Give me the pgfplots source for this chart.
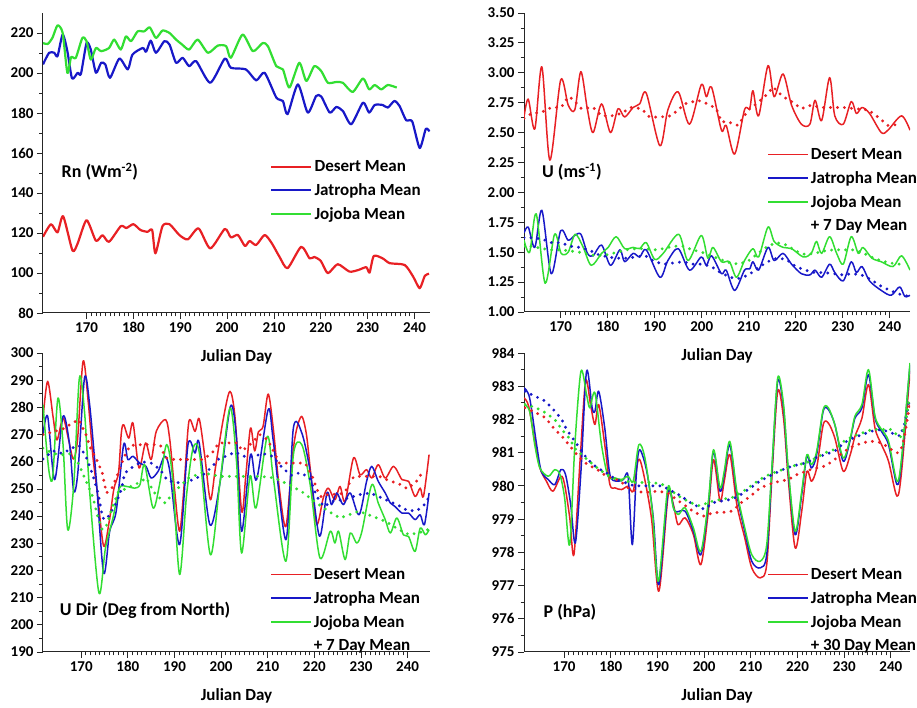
\documentclass[border=0pt]{standalone}
\usepackage{fontspec}
\setmainfont{Carlito}
\usepackage{pgfplots}
\pgfplotsset{compat=1.18}
\definecolor{cR}{RGB}{232,32,36}
\definecolor{cB}{RGB}{24,24,200}
\definecolor{cG}{RGB}{50,222,50}
\pgfplotsset{panel/.style={
  scale only axis, width=387pt, height=299pt, anchor=south west,
  axis x line*=bottom, axis y line*=left,
  axis line style={line width=1pt, black!85},
  tick align=outside, major tick length=6pt, minor tick length=3.5pt,
  every tick/.style={black!85, line width=0.8pt},
  xtick={170,180,...,240}, minor x tick num=9, minor y tick num=1,
  /pgf/number format/assume math mode=true,
  ticklabel style={font=\bfseries\fontsize{15}{15}\selectfont},
  xlabel={Julian Day},
  xlabel style={font=\bfseries\fontsize{17}{17}\selectfont, at={(rel axis cs:0.5,0)}, anchor=center, yshift=-44pt},
  legend style={draw=none, fill=none, inner sep=0pt, anchor=north west,
     font=\bfseries\fontsize{17}{17}\selectfont, row sep=6.5pt,
     nodes={inner sep=2pt}},
  legend cell align=left,
  legend image code/.code={\draw[##1] (0pt,0pt) -- (40pt,0pt);},
  every axis plot/.append style={line join=round},
}}
\pgfplotsset{mean/.style={line width=3.2pt, dash pattern=on 0pt off 7pt, line cap=round, forget plot}}
\begin{document}
\begin{tikzpicture}
\path[use as bounding box] (0,0) rectangle (917pt,708pt);
% ---------------- Panel 1: Rn
\begin{axis}[panel, at={(43pt,395pt)}, height=300pt, xmin=160.7, xmax=243.3, ymin=80, ymax=230,
  ytick={80,100,...,220},
  legend style={at={(rel axis cs:0.587,0.516)}}]
\addplot[cR, line width=2.2pt, smooth, tension=0.4] coordinates {(160.7,118.1)(162.4,124.4)(163.8,120.3)(165.0,128.4)(167.0,111.2)(168.1,114.8)(170.0,126.4)(172.0,116.1)(173.4,118.9)(174.8,115.6)(177.3,123.4)(178.5,122.5)(180.0,124.4)(181.5,121.5)(183.0,120.6)(184.0,121.5)(184.7,109.8)(186.2,123.4)(187.7,124.4)(189.8,119)(191.6,116.8)(193.9,122.3)(196.4,112.3)(199.5,122)(200.8,117.8)(202.3,119)(203.8,113.5)(204.8,116)(206.2,114)(208,119)(209.5,115)(211.2,108)(212.9,102.4)(215.8,113.1)(217.6,107.3)(218.6,108)(220,106)(221.5,99.9)(223.6,104.4)(226.1,100.7)(228,101.5)(229.7,102.9)(230.4,100.2)(231.3,108.5)(233.2,107.3)(234.7,104.9)(237.9,104.0)(239.7,98.2)(241.1,92.4)(242.2,98.6)(243.1,99.6)};
\addlegendentry{Desert Mean}
\addplot[cB, line width=2.2pt, smooth, tension=0.4] coordinates {(160.7,204.3)(162.0,210.1)(163.1,210.1)(163.8,208.4)(164.9,219.2)(165.9,210.9)(166.9,197.3)(168.1,200.1)(168.8,199.6)(170,215)(170.9,211.7)(172,200.1)(173.1,205.1)(174,204.3)(175,197.6)(177,207.2)(178.8,201.8)(179.8,209.2)(182,212.5)(182.7,210.6)(183.7,216.2)(184.8,210.1)(186.6,215.9)(187.7,214.2)(189.1,205.1)(190.5,207.6)(191.9,203.4)(193.4,205.9)(196.4,195.1)(199.5,207.2)(200.8,202.6)(204,201.8)(206.2,196.3)(208,200.1)(210.5,187.7)(211.9,186)(212.9,179.4)(215.1,194.3)(217.2,180.2)(219,188.5)(220.1,188.2)(221.9,180.2)(223.3,183)(224.7,181)(226.5,174.4)(229,185.2)(230.3,180.2)(231.5,184)(233.2,184)(234.3,182.7)(235.7,186)(236.8,183.5)(238.2,176.4)(239.5,175.8)(241.1,162.5)(242.4,172)(243.2,170.8)};
\addlegendentry{Jatropha Mean}
\addplot[cG, line width=2.2pt, smooth, tension=0.4] coordinates {(160.7,215)(161.7,214.5)(162.7,217.5)(163.8,223.8)(164.9,220)(165.9,200.1)(166.7,207.9)(167.7,207.6)(169.1,217.5)(170,215.9)(170.9,206.7)(172,212.5)(173.1,210.9)(174.8,212.5)(175.9,216.7)(177.3,211.7)(178.4,218.3)(179.5,215.9)(180.9,220.8)(182.3,220.8)(183.5,222.8)(184.8,217.5)(186.2,221.2)(187.7,220)(189.1,216.7)(190.4,214.2)(191.9,211.7)(193.7,216.7)(195.9,210.1)(198,213.7)(199.8,213.4)(200.8,207.6)(203.3,219.2)(205.5,210.9)(207.6,215)(208.7,213.4)(210.5,203.4)(211.9,201.8)(213.3,192.7)(215.4,205.1)(216.9,196)(218.6,203.4)(220.1,200.9)(221.5,195.1)(223.3,195.5)(224.7,195.1)(226.8,190.5)(229,197.3)(230.3,191.8)(231.5,194)(232.9,191.8)(234.3,194)(236.2,192.7)};
\addlegendentry{Jojoba Mean}
\node[font=\bfseries\fontsize{18}{18}\selectfont] at (rel axis cs:0.147,0.47) {Rn (Wm\textsuperscript{-2})};
\end{axis}
% ---------------- Panel 2: U
\begin{axis}[panel, at={(524pt,396pt)}, width=386pt, xmin=162.2, xmax=244.3, ymin=1, ymax=3.5,
  ytick={1,1.25,...,3.5},
  yticklabel style={/pgf/number format/.cd, fixed, fixed zerofill, precision=2},
  legend style={at={(rel axis cs:0.630,0.555)}}]
\addplot[cR, line width=1.5pt, smooth] coordinates {(162.2,2.63)(163.1,2.78)(164.5,2.53)(166.0,3.05)(167.7,2.27)(170,2.94)(171.6,2.73)(173.0,2.69)(174.3,3.01)(175.7,2.69)(176.9,2.50)(178.7,2.74)(180.6,2.50)(182.2,2.70)(183.6,2.63)(185.4,2.71)(186.8,2.74)(188.2,2.83)(191.1,2.39)(192.8,2.69)(195,2.84)(197.4,2.57)(199.9,2.90)(201,2.80)(202.1,2.88)(204.2,2.52)(205.2,2.56)(207.0,2.32)(209.1,2.69)(210.2,2.70)(210.9,2.85)(212.1,2.64)(214.1,3.06)(215.4,2.80)(217.3,2.99)(219.1,2.73)(221.2,2.57)(223,2.57)(224.1,2.77)(225.5,2.60)(227.2,2.96)(228.3,2.64)(230.1,2.57)(231.8,2.76)(232.9,2.66)(234.1,2.71)(235.7,2.66)(238.2,2.50)(239.6,2.52)(242.5,2.64)(244.3,2.52)};
\addlegendentry{Desert Mean}
\addplot[cB, line width=1.5pt, smooth] coordinates {(162.2,1.66)(163.1,1.71)(164.5,1.54)(166.0,1.85)(168.0,1.32)(170,1.68)(171.6,1.60)(173.0,1.64)(174.3,1.65)(175.7,1.49)(176.9,1.47)(178.7,1.56)(180.6,1.39)(182.6,1.52)(183.6,1.42)(185.4,1.49)(186.8,1.46)(188.2,1.52)(191.1,1.29)(192.8,1.43)(195,1.53)(197.4,1.35)(199.9,1.46)(201,1.39)(202.1,1.47)(204.2,1.32)(205.2,1.35)(207,1.18)(209.1,1.35)(210.2,1.36)(210.9,1.42)(212.1,1.35)(214.1,1.54)(215.4,1.43)(217.3,1.49)(219.1,1.40)(221.2,1.32)(223,1.31)(224.1,1.35)(225.5,1.29)(227.2,1.40)(228.3,1.33)(230.1,1.26)(231.8,1.42)(232.9,1.33)(234.1,1.38)(235.7,1.26)(238.2,1.18)(240.3,1.14)(242.1,1.21)(243.2,1.13)(244.3,1.14)};
\addlegendentry{Jatropha Mean}
\addplot[cG, line width=1.5pt, smooth] coordinates {(162.2,1.60)(163.4,1.50)(164.8,1.82)(166.7,1.24)(168.7,1.65)(170.1,1.49)(171.6,1.50)(173.1,1.65)(174.8,1.54)(176.5,1.39)(178.7,1.49)(180.1,1.54)(181.8,1.63)(183.6,1.53)(185.4,1.54)(186.8,1.53)(188.2,1.58)(190,1.44)(191.8,1.49)(195.1,1.65)(197.1,1.43)(199.9,1.64)(201.3,1.45)(202.4,1.54)(204.2,1.42)(205.9,1.42)(207.4,1.29)(209.1,1.43)(210.9,1.53)(212.1,1.46)(214.1,1.71)(215.4,1.59)(217.3,1.54)(219.1,1.53)(221.6,1.46)(223.3,1.49)(224.4,1.59)(225.5,1.49)(227.2,1.63)(228.7,1.49)(230.1,1.40)(231.8,1.63)(233.3,1.49)(234.3,1.54)(236.2,1.45)(238.2,1.42)(240.7,1.38)(242.5,1.47)(244.3,1.35)};
\addlegendentry{Jojoba Mean}
\addlegendimage{empty legend}
\addlegendentry{+ 7 Day Mean}
\addplot[cR, mean] coordinates {(162.2,2.62)(163.8,2.66)(165.9,2.67)(168.0,2.71)(170.1,2.71)(171.6,2.80)(172.6,2.78)(174.4,2.70)(176.9,2.71)(178.7,2.64)(180.8,2.64)(182.9,2.66)(185.0,2.71)(187.2,2.70)(188.9,2.63)(191.1,2.63)(193.5,2.64)(196.4,2.74)(199.2,2.77)(201.3,2.74)(203.1,2.70)(204.2,2.59)(205.6,2.59)(207.7,2.56)(209.9,2.69)(211.6,2.74)(213.4,2.80)(215.2,2.88)(217.3,2.80)(219.1,2.76)(221.2,2.70)(223.3,2.73)(225.5,2.71)(227.9,2.71)(230.1,2.71)(232.6,2.70)(235.4,2.69)(237.5,2.63)(239.6,2.56)(242.5,2.57)};
\addplot[cB, mean] coordinates {(162.2,1.62)(164,1.62)(166,1.61)(168,1.58)(170,1.58)(172,1.55)(174,1.54)(176,1.52)(178,1.48)(180,1.46)(182,1.45)(184,1.45)(186,1.46)(188,1.47)(190,1.42)(192,1.40)(194,1.41)(196,1.42)(198,1.40)(200,1.40)(202,1.38)(204,1.33)(206,1.29)(208,1.28)(210,1.31)(212,1.37)(214,1.42)(216,1.45)(218,1.44)(220,1.38)(222,1.35)(224,1.33)(226,1.33)(228,1.32)(230,1.31)(232,1.32)(234,1.31)(236,1.27)(238,1.22)(240,1.18)(242,1.15)(244,1.13)};
\addplot[cG, mean] coordinates {(162.2,1.55)(164,1.55)(166,1.53)(168,1.52)(170,1.52)(172,1.51)(174,1.50)(176,1.48)(178,1.47)(180,1.48)(182,1.50)(184,1.52)(186,1.53)(188,1.53)(190,1.52)(192,1.53)(194,1.55)(196,1.55)(198,1.52)(200,1.50)(202,1.47)(204,1.44)(206,1.41)(208,1.40)(210,1.43)(212,1.49)(214,1.55)(216,1.58)(218,1.56)(220,1.51)(222,1.48)(224,1.49)(226,1.51)(228,1.52)(230,1.52)(232,1.52)(234,1.50)(236,1.46)(238,1.43)(240,1.41)(242,1.40)};
\node[font=\bfseries\fontsize{18}{18}\selectfont] at (rel axis cs:0.124,0.468) {U (ms\textsuperscript{-1})};
\end{axis}
% ---------------- Panel 3: U Dir
\begin{axis}[panel, at={(43pt,56pt)}, width=387pt, xmin=161.8, xmax=244.8, ymin=190, ymax=300,
  ytick={190,200,...,300},
  legend style={at={(rel axis cs:0.587,0.287)}}]
\addplot[cR, line width=1.5pt, smooth] coordinates {(161.8,276)(162.8,289.6)(164.0,276)(164.8,268)(166.1,276)(167.3,268)(168.3,261)(169.2,268)(170.4,297)(171.5,282)(172.5,262)(173.5,248)(174.8,229)(176,238)(177,250)(178,256)(178.6,270.6)(179.1,273.6)(180.2,268.7)(181.1,274.2)(182.4,257.7)(183.8,266.9)(185,260.8)(186.1,271.2)(188.1,275.5)(189,268)(190,250)(191.1,234.4)(192.1,252)(193.1,274.9)(194.4,271.2)(195.3,275.8)(196.5,262)(197.7,246)(198.8,258)(200.5,276)(201.9,285.9)(203,276)(204.4,241.8)(205.3,255)(206.3,272.4)(207.2,264)(208,271)(209,273)(210.1,284.9)(211.2,272)(212.5,250)(213.9,236.2)(215.3,262)(216.2,272)(217.3,276.7)(218.3,270)(219.2,256)(220.5,237)(221.9,246.6)(223,250.3)(224.4,246)(225.5,250.9)(226.6,245.4)(228.4,261.4)(229.8,255.2)(231.2,257.1)(232.3,254)(233.7,258.9)(235.2,254)(237,258.3)(238.8,253.4)(240.2,252.8)(241.6,247.2)(242.7,250.3)(243.4,247.2)(244.6,262.6)};
\addlegendentry{Desert Mean}
\addplot[cB, line width=1.5pt, smooth] coordinates {(161.8,270)(162.8,276.7)(164.3,253.4)(166.1,276.7)(167.5,266.3)(168.4,249.1)(169.3,256.5)(170.7,290.8)(171.8,281)(173.2,254)(174.8,219.1)(176.1,234.4)(177.5,241.8)(179.1,266.3)(180.0,260.8)(181.1,262)(182.5,259.5)(183.9,258.3)(185,254)(186.5,256.5)(187.9,262)(189,256.5)(191.1,229.5)(192.9,266.3)(194.4,263.2)(195.3,266.9)(197.6,236.8)(199.7,251.6)(202,280.4)(203.3,268.7)(204.4,234.4)(206.3,262.6)(207.6,253.4)(210.1,279.2)(211.2,267.5)(213.9,231.3)(215.5,272.4)(217.3,270.6)(219.1,256.5)(221.1,232.6)(222.7,248.5)(223.7,244.2)(224.8,248.5)(226.2,244.2)(227.7,248.5)(229.6,240.5)(231.2,252.8)(232.3,258.3)(233.7,252.8)(235.2,248.5)(236.3,244.8)(237.3,243.5)(238.8,241.1)(240.2,241.1)(241.6,238.7)(242.7,240.5)(243.6,236.8)(244.6,248.5)};
\addlegendentry{Jatropha Mean}
\addplot[cG, line width=1.5pt, smooth] coordinates {(161.8,281)(162.5,266.3)(163.2,255.2)(163.9,254.6)(165,283.4)(166.1,266.3)(167.1,235)(168.4,251.6)(169.6,290.8)(170.7,278.5)(171.8,249.1)(173.8,211.7)(175.2,228.3)(176.8,239.3)(178.2,250.3)(179.7,250.9)(181.5,250.3)(182.6,251.6)(183.6,258.9)(185.4,243)(186.8,251.6)(188.3,266.3)(189.6,254)(191.1,218.5)(192.6,247.9)(194,265.1)(195.4,262.6)(197.7,225.8)(199.7,251.6)(201.9,279.8)(203.3,260.1)(204.4,226.4)(206.2,254.6)(207.5,243)(209.9,269.3)(211.2,254)(213.9,223.4)(215.5,262.6)(217.3,266.3)(219.1,251.6)(221.2,224.6)(223.4,234.4)(224.4,230.1)(225.2,234.4)(226.6,224)(227.7,233.8)(229.1,230.1)(230.2,234.4)(232.3,251.5)(233.7,244.8)(235.2,238.7)(236.3,233.8)(237.7,239.3)(239.1,233.1)(240.2,232.5)(241.6,227)(242.7,235.6)(243.8,233.1)(244.6,235)};
\addlegendentry{Jojoba Mean}
\addlegendimage{empty legend}
\addlegendentry{+ 7 Day Mean}
\addplot[cR, mean] coordinates {(161.8,270)(164,271)(166,272)(167.5,273.6)(169.5,275.5)(171,270)(172,265)(173.5,260)(174.5,256)(175.4,248.5)(176.5,250)(177.5,254)(179.3,262.1)(180.5,266)(183,266.3)(185.5,266.3)(187,266)(188,261.5)(190,260.8)(193,260.8)(196,260.8)(198,263)(199.5,266.9)(201.5,266.9)(203.5,266.9)(204.5,264)(206,266)(208.3,270)(210,268)(211.2,264)(212.5,259.5)(215,259.5)(218,259.5)(219.5,255)(220.5,250)(221.5,247)(223,248)(225,248)(226.5,248.5)(227.5,252)(228.5,254.6)(231,254.6)(234,254.6)(236,253)(238,252)(240,250)(242,253)(243.5,257)};
\addplot[cB, mean] coordinates {(161.8,261)(164,264)(166,263)(168,265)(169.5,266)(171,262)(172.5,255)(173.6,248.5)(174.6,239.3)(175.4,238.7)(176.5,241.8)(177.5,244.8)(178.6,249.7)(179.3,255.8)(181,258)(183,260)(185,259.5)(187,257)(188.5,253)(190,252.5)(192,252)(194,253.5)(196,255)(198,258)(199.5,261)(201,262)(203,263.5)(205,262)(207,262)(209,263)(211,262)(213,258)(215,255)(217,256)(219,254)(220.5,247.3)(222,243.5)(224,245.5)(226,246)(228,247)(230,248)(232,248.5)(234,247)(236,245.5)(238,244)(240,242)(242,242)(243.5,244)(244.6,247)};
\addplot[cG, mean] coordinates {(161.8,265)(164,263)(166,262.6)(168,263)(169.5,259)(171,253)(172.5,247)(173.5,240)(174.5,235)(175.5,236.8)(176.8,244)(178,249)(179.5,250)(182,252)(184,254)(185.5,249)(186.8,246.7)(188,244.8)(190,249)(193,254)(196,256)(199.7,254.6)(202.5,254.6)(205.5,254.6)(208.5,254.6)(211.5,254)(214.5,251.6)(217.3,249)(220,245.4)(223,241.8)(225.5,239.3)(227.5,240.5)(229.5,241.8)(232.4,240)(235.3,238)(238.2,235)(240.3,233.2)(242.4,233.8)(244.3,235)};
\node[font=\bfseries\fontsize{18}{18}\selectfont] at (rel axis cs:0.264,0.14) {U Dir (Deg from North)};
\end{axis}
% ---------------- Panel 4: P
\begin{axis}[panel, at={(524pt,56pt)}, width=386pt, xmin=161.4, xmax=244.1, ymin=975, ymax=984,
  ytick={975,976,...,984},
  legend style={at={(rel axis cs:0.630,0.287)}}]
\addplot[cR, line width=1.5pt, smooth] coordinates {(161.4,982.65)(162.4,982.4)(163.7,981.34)(164.8,980.54)(166.2,980.14)(167.6,979.84)(169.3,980.29)(170.1,980.04)(171.2,979.04)(172.1,977.93)(173.4,980.74)(174.6,983.15)(175.7,982.4)(176.6,981.85)(177.4,982.45)(178.7,981.24)(179.8,980.04)(180.9,979.94)(182.3,979.89)(183.7,979.99)(184.8,979.84)(185.9,980.79)(186.9,980.44)(188.7,979.04)(190.3,976.83)(192.3,979.74)(193.4,979.44)(194.4,978.83)(195.9,979.04)(197.7,978.53)(199.3,977.63)(200.9,979.24)(202,980.79)(203.4,979.54)(204.3,980.14)(205.5,980.94)(207,979.44)(208.7,978.43)(210.2,977.53)(212,977.23)(213.4,977.63)(214.5,980.24)(215.75,982.85)(217,982.04)(218,980.24)(219.5,978.13)(220.9,979.24)(222,980.44)(223,980.14)(224.1,980.54)(225.5,981.84)(226.6,981.89)(228,981.44)(229.8,980.44)(231.3,980.94)(232.3,981.49)(233.8,982.04)(235.2,983.05)(236.6,981.74)(238,981.24)(239.5,980.74)(241.3,979.69)(242.3,980.44)(244.1,983.45)};
\addlegendentry{Desert Mean}
\addplot[cB, line width=1.5pt, smooth] coordinates {(161.4,982.95)(162.6,982.65)(164.1,981.24)(165.1,980.44)(166.6,980.19)(168.0,980.04)(169.3,980.49)(170.3,980.34)(171.4,979.44)(172.4,978.28)(173.6,980.44)(174.8,983.45)(176.0,982.35)(176.6,982.25)(177.4,982.85)(178.7,981.74)(179.8,980.34)(181.2,980.14)(182.7,980.19)(183.7,980.29)(184.6,978.23)(185.5,980.44)(186.2,981.09)(187.7,980.44)(189.1,979.04)(190.3,977.03)(192.3,979.84)(193.7,979.24)(195.9,979.24)(197.7,978.63)(199.3,977.93)(200.9,979.44)(202,981.04)(203.4,979.84)(204.3,980.34)(205.5,981.24)(207,979.74)(208.7,978.63)(210.2,977.73)(212,977.53)(213.4,977.93)(214.5,980.44)(215.75,983.15)(217,982.35)(218,980.44)(219.5,978.53)(220.9,979.74)(222,980.89)(223,980.54)(224.1,980.94)(225.5,982.25)(226.6,982.3)(228,981.84)(229.8,980.74)(231.3,981.39)(232.3,982.04)(233.8,982.35)(235.2,983.35)(236.6,982.04)(238,981.64)(239.5,981.24)(241.3,980.04)(242.3,980.74)(244.1,983.65)};
\addlegendentry{Jatropha Mean}
\addplot[cG, line width=1.5pt, smooth] coordinates {(161.4,982.45)(162.6,982.25)(163.7,981.24)(164.8,980.54)(166.6,980.29)(168.0,980.49)(169.1,980.34)(170.1,979.64)(171.2,978.23)(172.3,981.24)(173.6,983.45)(174.8,982.75)(175.5,982.35)(176.6,982.8)(178.0,981.24)(179.4,980.29)(180.9,980.24)(182.3,980.19)(183.7,980.29)(184.8,980.14)(186.0,981.24)(187.3,980.84)(188.9,979.24)(190.2,977.13)(192.2,979.94)(193.4,979.34)(194.5,979.14)(195.9,979.34)(197.7,978.73)(199.3,978.03)(200.9,979.54)(202,981.09)(203.4,979.94)(204.3,980.44)(205.5,981.34)(207,979.84)(208.7,978.73)(210.2,977.93)(212,977.73)(213.4,978.23)(214.5,980.54)(215.75,983.25)(217,982.45)(218,980.54)(219.5,978.63)(220.9,979.84)(222,980.94)(223,980.64)(224.1,981.04)(225.5,982.3)(226.6,982.35)(228,981.84)(229.8,980.84)(231.3,981.44)(232.3,982.1)(233.8,982.45)(235.2,983.5)(236.6,982.1)(238,981.7)(239.5,981.34)(241.3,980.14)(242.3,980.84)(244.1,983.7)};
\addlegendentry{Jojoba Mean}
\addlegendimage{empty legend}
\addlegendentry{+ 30 Day Mean}
\addplot[cR, mean] coordinates {(161.6,982.35)(164,982.2)(166,982.05)(168,981.7)(169.5,981.5)(171,981.24)(173,980.9)(175,980.64)(177,980.5)(179,980.3)(182,980.15)(184,979.9)(187,979.8)(190,979.84)(192,979.8)(194,979.6)(196,979.4)(198,979.2)(200,979.09)(202,979.2)(204,979.2)(206,979.24)(208,979.5)(210,979.7)(212,979.94)(215,980.1)(218,980.19)(220,980.35)(223,980.5)(226,980.6)(228,980.8)(230,981.04)(232,981.2)(234,981.3)(236,981.34)(238,981.3)(240,981.1)(241.5,980.99)(242.5,981.2)(243.3,981.8)(244,982.45)};
\addplot[cB, mean] coordinates {(161.6,982.85)(163,982.75)(166,982.55)(168,982.25)(169.5,982.0)(170.5,981.7)(172,981.4)(173.5,981.1)(175,980.8)(177,980.55)(179,980.4)(181,980.2)(183,980.1)(185,980.0)(187,980.0)(189,980.0)(191,980.0)(193,979.85)(195,979.7)(197,979.5)(199,979.35)(200,979.3)(202,979.5)(204,979.55)(206,979.6)(208,979.75)(210,979.95)(212,980.15)(214,980.3)(217,980.5)(219,980.6)(222,980.7)(224,980.85)(226,980.95)(228,981.05)(230,981.3)(232,981.45)(234,981.55)(236,981.65)(238,981.7)(240,981.6)(242,981.5)(243,981.9)(244,982.6)};
\addplot[cG, mean] coordinates {(161.6,982.45)(164,982.35)(166,982.2)(168,982.0)(169.5,981.7)(171,981.45)(172.5,981.1)(174.5,980.85)(176.5,980.6)(178.5,980.4)(181,980.2)(183,980.15)(185,980.1)(187,980.1)(189,980.1)(191,980.05)(193,979.85)(195,979.65)(197,979.5)(199,979.4)(200,979.45)(202,979.55)(204,979.6)(206,979.65)(208,979.8)(210,980.0)(212,980.2)(214,980.35)(217,980.5)(219,980.6)(222,980.7)(224,980.85)(226,981.0)(228,981.1)(230,981.35)(232,981.5)(234,981.6)(236,981.7)(238,981.7)(240,981.7)(242,981.45)(243,981.8)(244,982.7)};
\node[font=\bfseries\fontsize{18}{18}\selectfont] at (rel axis cs:0.119,0.133) {P (hPa)};
\end{axis}
\end{tikzpicture}
\end{document}
